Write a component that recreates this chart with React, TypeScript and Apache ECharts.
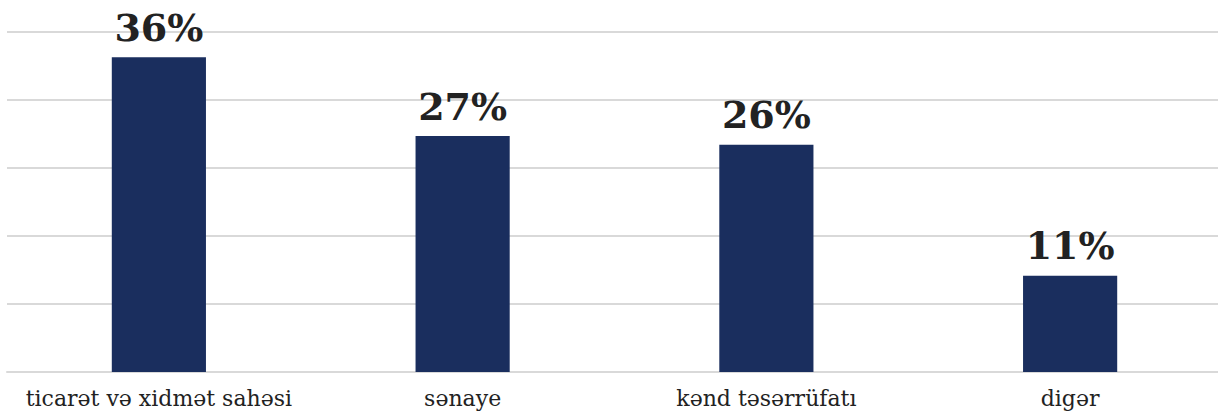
import React, { useEffect, useRef } from "react";
import * as echarts from "echarts";

const categories = ["ticarət və xidmət sahəsi", "sənaye", "kənd təsərrüfatı", "digər"];
const values = [36, 27, 26, 11];
const axisMax = 38.9;
const axisInterval = 7.78;

export default function App() {
  const ref = useRef<HTMLDivElement>(null);
  useEffect(() => {
    const chart = echarts.init(ref.current!, null, { renderer: "svg" });
    chart.setOption({
      animation: false,
      grid: { left: 7, right: 4, top: 32, bottom: 42, containLabel: false },
      xAxis: {
        type: "category",
        data: categories,
        axisLine: { show: true, lineStyle: { color: "#d9d9d9", width: 2 } },
        axisTick: { show: false },
        axisLabel: {
          interval: 0,
          color: "#222222",
          fontFamily: "DejaVu Serif",
          fontSize: 22,
          margin: 15,
        },
      },
      yAxis: {
        type: "value",
        min: 0,
        max: axisMax,
        interval: axisInterval,
        axisLabel: { show: false },
        axisLine: { show: false },
        axisTick: { show: false },
        splitLine: { lineStyle: { color: "#d9d9d9", width: 2 } },
      },
      series: [
        {
          type: "bar",
          data: values,
          barWidth: "31%",
          itemStyle: { color: "#1a2e5e" },
          label: {
            show: true,
            position: "top",
            distance: 11,
            formatter: "{c}%",
            color: "#222222",
            fontFamily: "DejaVu Serif",
            fontWeight: "bold",
            fontSize: 38,
          },
        },
      ],
    });
    return () => chart.dispose();
  }, []);
  return (
    <div
      style={{ position: "absolute", left: 0, top: 0, width: 1218, height: 414, overflow: "hidden" }}
    >
      <div ref={ref} style={{ width: 1226, height: 414 }} />
    </div>
  );
}
